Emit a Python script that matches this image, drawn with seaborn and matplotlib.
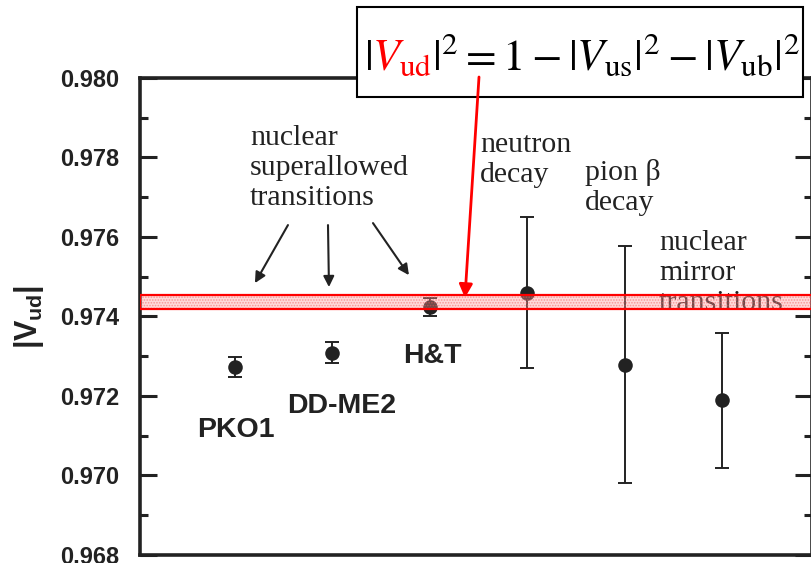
import numpy as np
import matplotlib
matplotlib.use("Agg")
import matplotlib.pyplot as plt
import seaborn as sns
from matplotlib.offsetbox import TextArea, HPacker, AnnotationBbox
from matplotlib.patches import Rectangle, ConnectionPatch
from matplotlib.ticker import MultipleLocator, FormatStrFormatter

# ---- data ----
categories = ["PKO1", "DD-ME2", "H&T", "neutron decay", "pion beta decay", "nuclear mirror transitions"]
vud_values = [0.97273, 0.97309, 0.97424, 0.97460, 0.97279, 0.97189]
err_low = [0.00025, 0.00026, 0.00023, 0.00190, 0.00299, 0.00169]
err_high = [0.00025, 0.00026, 0.00023, 0.00190, 0.00299, 0.00169]
band_low, band_high = 0.97420, 0.97455
y_ticks = [0.968, 0.970, 0.972, 0.974, 0.976, 0.978, 0.980]

sns.set_theme(style="ticks")
plt.rcParams["font.family"] = ["Liberation Sans", "DejaVu Sans"]
plt.rcParams["mathtext.fontset"] = "stix"
plt.rcParams["mathtext.rm"] = "Liberation Sans:bold"
plt.rcParams["mathtext.it"] = "Liberation Sans:bold"
plt.rcParams["mathtext.bf"] = "Liberation Sans:bold"
plt.rcParams["hatch.linewidth"] = 0.8

W, H = 812, 563
fig = plt.figure(figsize=(W / 100, H / 100), dpi=100)
ax = fig.add_axes([140 / W, 8 / H, 672 / W, 477 / H])

xpos = np.arange(1, len(categories) + 1)
dark = "#222222"

ax.errorbar(xpos, vud_values, yerr=[err_low, err_high], fmt="none",
            ecolor=dark, elinewidth=1.4, capsize=5, capthick=1.4, zorder=3)
sns.scatterplot(x=xpos, y=vud_values, s=110, color=dark, edgecolor=dark,
                linewidth=0, zorder=4, ax=ax, legend=False)

# band
ax.axhspan(band_low, band_high, facecolor=(1.0, 0.6, 0.6, 0.35),
           edgecolor=(0.95, 0.35, 0.35, 0.5), hatch="......", lw=0, zorder=6)
ax.axhspan(band_low, band_high, facecolor="none", edgecolor="red", lw=1.6, zorder=7)

ax.set_xlim(0.025, 6.924)
ax.set_ylim(0.968, 0.980)
ax.set_yticks(y_ticks)
ax.yaxis.set_minor_locator(MultipleLocator(0.001))
ax.yaxis.set_major_formatter(FormatStrFormatter("%.3f"))
ax.set_xticks([])
ax.tick_params(axis="y", which="both", direction="in", left=True, right=True,
               color=dark, width=2.2)
ax.tick_params(axis="y", which="major", length=12, labelsize=17, pad=15)
ax.tick_params(axis="y", which="minor", length=6)
for lab in ax.get_yticklabels():
    lab.set_fontweight("bold")
    lab.set_color(dark)
for sp in ax.spines.values():
    sp.set_visible(True)
    sp.set_linewidth(2.6)
    sp.set_color(dark)

ax.set_ylabel(r"$|V_{ud}|$", fontsize=22, color=dark, labelpad=10,
              math_fontfamily="custom")

serif = ["Liberation Serif", "DejaVu Serif"]
tkw = dict(fontsize=21.5, family=serif, color="#222222", ha="left", va="baseline",
           linespacing=1.2, zorder=5)
ax.text(1.154, 0.97681, "nuclear\nsuperallowed\ntransitions", **tkw)
ax.text(3.515, 0.97738, "neutron\ndecay", **tkw)
ax.text(4.593, 0.97668, "pion β\ndecay", **tkw)
ax.text(5.353, 0.97416, "nuclear\nmirror\ntransitions", **tkw)

bkw = dict(fontsize=20.5, fontweight="bold", color=dark, ha="left", va="baseline")
ax.text(0.610, 0.97097, "PKO1", **bkw)
ax.text(1.534, 0.97157, "DD-ME2", **bkw)
ax.text(2.725, 0.97283, "H&T", **bkw)

akw = dict(arrowstyle="-|>", color=dark, lw=1.5, mutation_scale=16, shrinkA=0, shrinkB=0)
ax.annotate("", xy=(1.205, 0.97484), xytext=(1.544, 0.97630), arrowprops=akw)
ax.annotate("", xy=(1.965, 0.97474), xytext=(1.955, 0.97630), arrowprops=akw)
ax.annotate("", xy=(2.786, 0.97504), xytext=(2.417, 0.97635), arrowprops=akw)

# equation box
box = Rectangle((357 / W, 1 - 97 / H), 446 / W, 90 / H, transform=fig.transFigure,
                facecolor="white", edgecolor="black", lw=1.5, zorder=10)
fig.add_artist(box)

eqsize = 32
p1 = TextArea(r"$|$", textprops=dict(fontsize=eqsize, color="black", math_fontfamily="stix"))
p2 = TextArea(r"$V_{\mathrm{ud}}$", textprops=dict(fontsize=eqsize, color="red", math_fontfamily="stix"))
p3 = TextArea(r"$|^{2} = 1 - |V_{\mathrm{us}}|^{2} - |V_{\mathrm{ub}}|^{2}$",
              textprops=dict(fontsize=eqsize, color="black", math_fontfamily="stix"))
pack = HPacker(children=[p1, p2, p3], align="baseline", pad=0, sep=0)
ab = AnnotationBbox(pack, (582 / W, 1 - 55 / H), xycoords="figure fraction",
                    frameon=False, box_alignment=(0.5, 0.5), zorder=11)
fig.add_artist(ab)

red_arrow = ConnectionPatch(xyA=(479 / W, 1 - 77 / H), coordsA="figure fraction",
                            xyB=(3.361, 0.97447), coordsB=ax.transData,
                            arrowstyle="-|>", color="red", lw=2, mutation_scale=20,
                            shrinkA=0, shrinkB=0, zorder=10.5)
fig.add_artist(red_arrow)

fig.savefig("out.png", dpi=100)
